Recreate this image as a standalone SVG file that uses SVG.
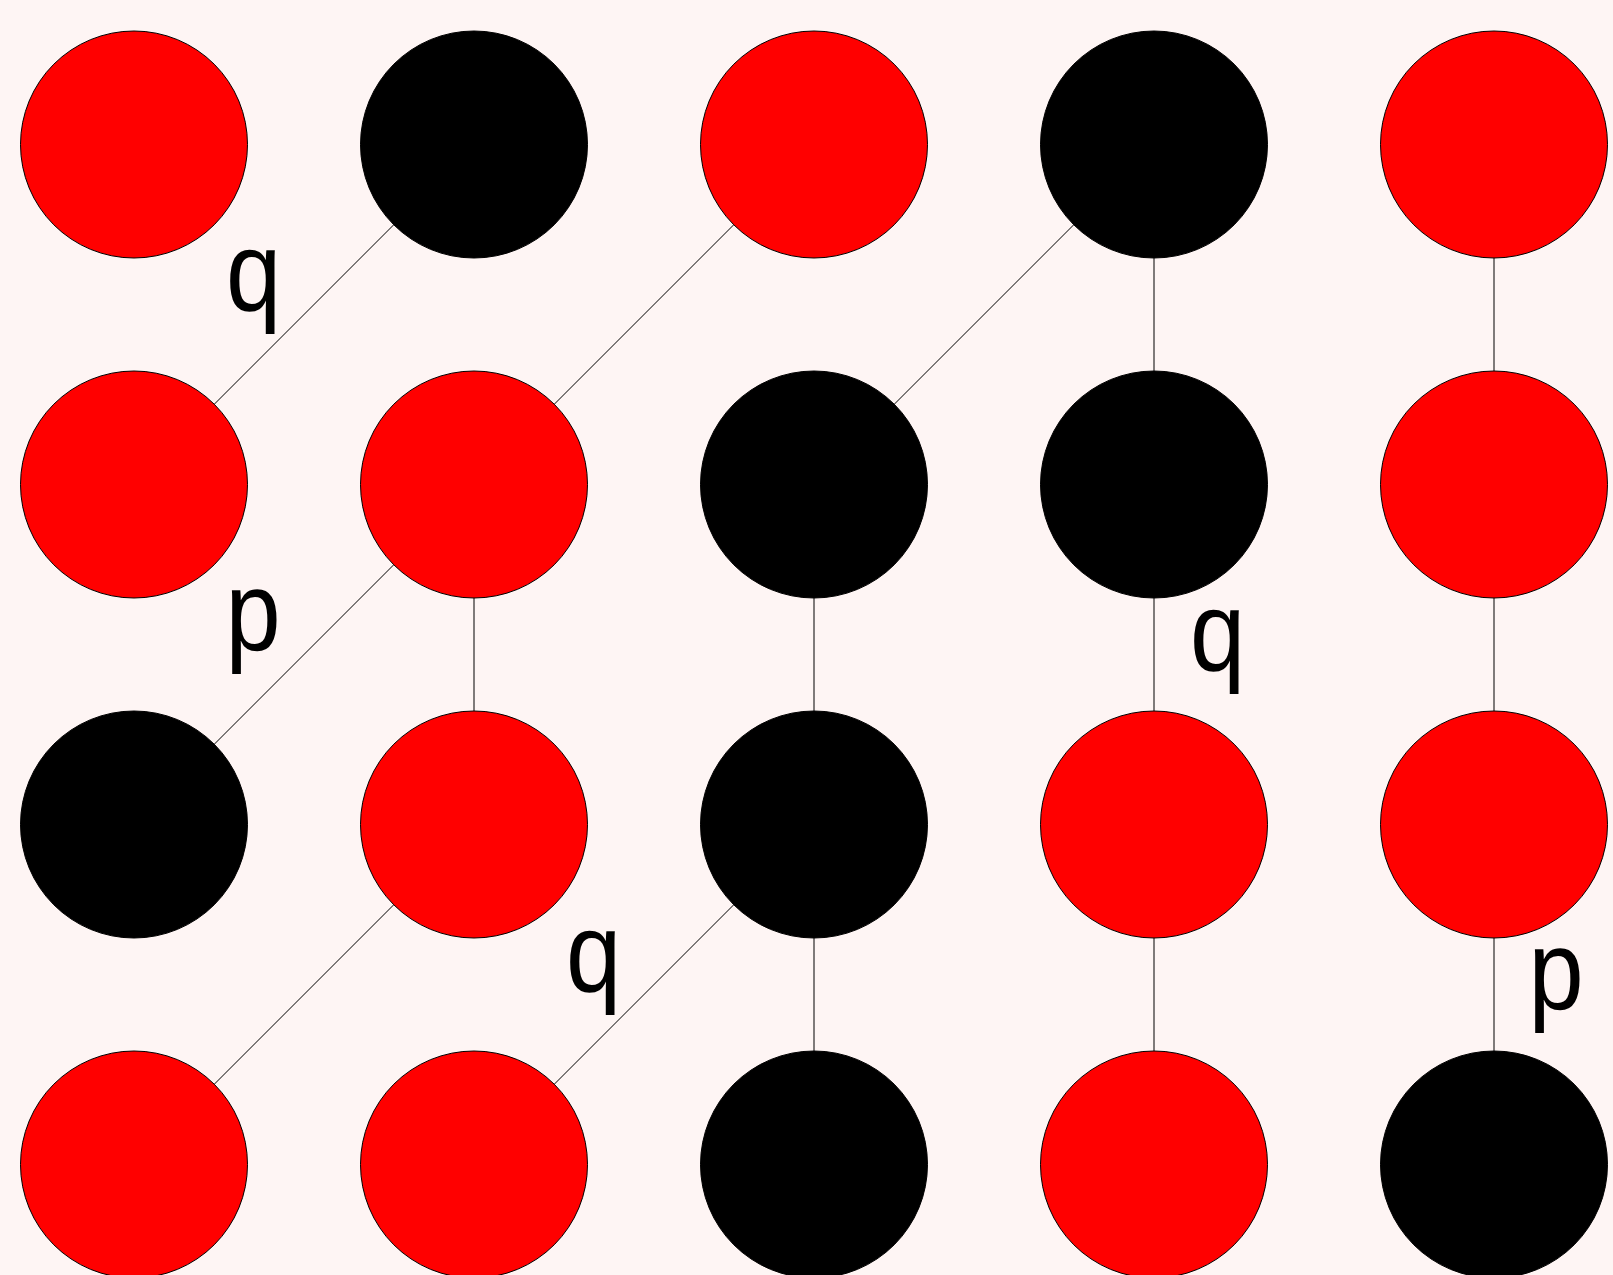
<svg xmlns="http://www.w3.org/2000/svg" width="1613" height="1275" viewBox="0 0 1613 1275">
<style>
.r{fill:#ff0000;stroke:#000;stroke-width:1}
.k{fill:#000;stroke:#000;stroke-width:1}
.e{stroke:#000;stroke-width:1;fill:none}
.l{font-family:"Liberation Sans",Arial,sans-serif;font-size:114px;fill:#000}
</style>
<rect width="1613" height="1275" fill="#fef5f4"/>
<g id="edges">
<line class="e" x1="474" y1="144.5" x2="134" y2="484.5"/>
<line class="e" x1="814" y1="144.5" x2="474" y2="484.5"/>
<line class="e" x1="1154" y1="144.5" x2="814" y2="484.5"/>
<line class="e" x1="1154" y1="144.5" x2="1154" y2="484.5"/>
<line class="e" x1="1494" y1="144.5" x2="1494" y2="484.5"/>
<line class="e" x1="474" y1="484.5" x2="134" y2="824.5"/>
<line class="e" x1="474" y1="484.5" x2="474" y2="824.5"/>
<line class="e" x1="814" y1="484.5" x2="814" y2="824.5"/>
<line class="e" x1="1154" y1="484.5" x2="1154" y2="824.5"/>
<line class="e" x1="1494" y1="484.5" x2="1494" y2="824.5"/>
<line class="e" x1="474" y1="824.5" x2="134" y2="1164.5"/>
<line class="e" x1="814" y1="824.5" x2="474" y2="1164.5"/>
<line class="e" x1="814" y1="824.5" x2="814" y2="1164.5"/>
<line class="e" x1="1154" y1="824.5" x2="1154" y2="1164.5"/>
<line class="e" x1="1494" y1="824.5" x2="1494" y2="1164.5"/>
</g>
<g id="n00"><circle class="r" cx="134" cy="144.5" r="113.5"/></g>
<g id="n01"><circle class="k" cx="474" cy="144.5" r="113.5"/></g>
<g id="n02"><circle class="r" cx="814" cy="144.5" r="113.5"/></g>
<g id="n03"><circle class="k" cx="1154" cy="144.5" r="113.5"/></g>
<g id="n04"><circle class="r" cx="1494" cy="144.5" r="113.5"/></g>
<g id="n10"><circle class="r" cx="134" cy="484.5" r="113.5"/></g>
<g id="n11"><circle class="r" cx="474" cy="484.5" r="113.5"/></g>
<g id="n12"><circle class="k" cx="814" cy="484.5" r="113.5"/></g>
<g id="n13"><circle class="k" cx="1154" cy="484.5" r="113.5"/></g>
<g id="n14"><circle class="r" cx="1494" cy="484.5" r="113.5"/></g>
<g id="n20"><circle class="k" cx="134" cy="824.5" r="113.5"/></g>
<g id="n21"><circle class="r" cx="474" cy="824.5" r="113.5"/></g>
<g id="n22"><circle class="k" cx="814" cy="824.5" r="113.5"/></g>
<g id="n23"><circle class="r" cx="1154" cy="824.5" r="113.5"/></g>
<g id="n24"><circle class="r" cx="1494" cy="824.5" r="113.5"/></g>
<g id="n30"><circle class="r" cx="134" cy="1164.5" r="113.5"/></g>
<g id="n31"><circle class="r" cx="474" cy="1164.5" r="113.5"/></g>
<g id="n32"><circle class="k" cx="814" cy="1164.5" r="113.5"/></g>
<g id="n33"><circle class="r" cx="1154" cy="1164.5" r="113.5"/></g>
<g id="n34"><circle class="k" cx="1494" cy="1164.5" r="113.5"/></g>
<g id="labels">
<text class="l" transform="translate(226,310) scale(0.87,1)">q</text>
<text class="l" transform="translate(225.5,650) scale(0.87,1)">p</text>
<text class="l" transform="translate(566,991) scale(0.87,1)">q</text>
<text class="l" transform="translate(1190,670) scale(0.87,1)">q</text>
<text class="l" transform="translate(1528.5,1009) scale(0.87,1)">p</text>
</g>
</svg>
